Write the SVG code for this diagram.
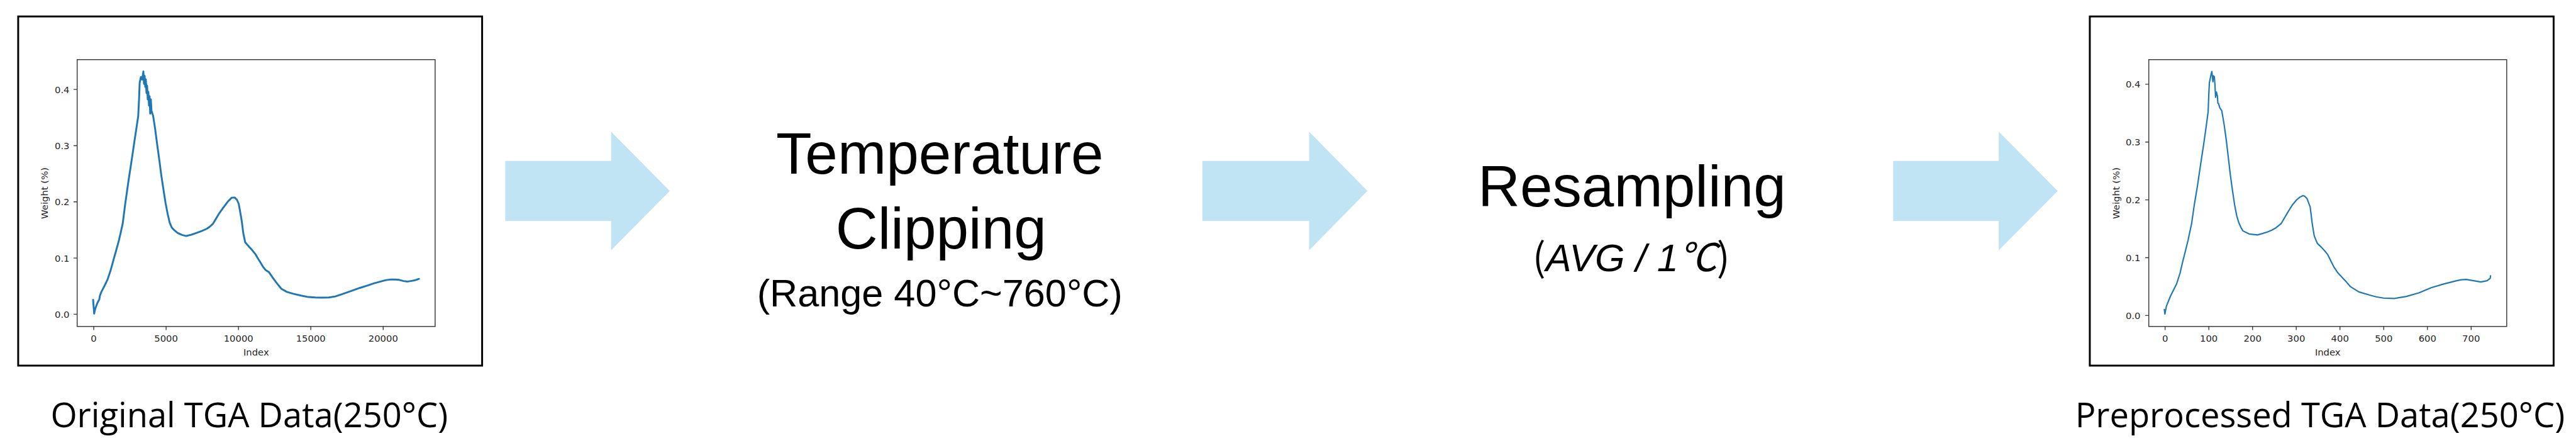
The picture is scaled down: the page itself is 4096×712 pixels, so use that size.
<svg xmlns="http://www.w3.org/2000/svg" width="4096" height="712" viewBox="0 0 4096 712">
<style>
.bg{fill:#ffffff}
.box{fill:#ffffff;stroke:#000000;stroke-width:3}
.frame{fill:none;stroke:#3a3a3a;stroke-width:1.5}
.tick{fill:none;stroke:#3a3a3a;stroke-width:1.4}
.tl{font-family:"DejaVu Sans",sans-serif;font-size:15px;fill:#262626}
.tlr{text-anchor:end}
.tlc{text-anchor:middle}
.curve{fill:none;stroke:#1f77b4;stroke-linejoin:round;stroke-linecap:round}
.arrow{fill:#c1e4f5}
.title{font-family:"Liberation Sans",Arial,sans-serif;font-size:94px;fill:#000;text-anchor:middle}
.sub{font-family:"Liberation Sans",Arial,sans-serif;font-size:62px;fill:#000;text-anchor:middle}
.cap{font-family:"Open Sans","Noto Sans",sans-serif;font-size:55px;fill:#000;text-anchor:middle}
</style>
<rect class="bg" x="0" y="0" width="4096" height="712"/>
<g transform="scale(0.987)">
<g id="node-original">
<rect class="box" x="29.3" y="26.5" width="747.4" height="562.2"/>
<rect class="frame" x="124.3" y="96" width="576.7" height="429.7"/>
<path class="tick" d="M118.5,144h5.8M118.5,234.5h5.8M118.5,325h5.8M118.5,415.5h5.8M118.5,506h5.8M151,525.7v5.8M267.6,525.7v5.8M384.2,525.7v5.8M500.7,525.7v5.8M617.3,525.7v5.8"/>
<text class="tl tlr" x="112" y="149.5">0.4</text>
<text class="tl tlr" x="112" y="240">0.3</text>
<text class="tl tlr" x="112" y="330.5">0.2</text>
<text class="tl tlr" x="112" y="421">0.1</text>
<text class="tl tlr" x="112" y="511.5">0.0</text>
<text class="tl tlc" x="151" y="550">0</text>
<text class="tl tlc" x="267.6" y="550">5000</text>
<text class="tl tlc" x="384.2" y="550">10000</text>
<text class="tl tlc" x="500.7" y="550">15000</text>
<text class="tl tlc" x="617.3" y="550">20000</text>
<text class="tl tlc" x="412.7" y="572">Index</text>
<text class="tl tlc" transform="translate(76.5,311) rotate(-90)">Weight (%)</text>
<path class="curve" stroke-width="3" d="M150,482.7 L151.7,505 L153.5,497 L156.7,488.3 L160,482 L161,476 L163.3,470 L168,461 L173.3,450 L178,436 L183.3,416.7 L187.5,402 L191.7,386.7 L197.7,360 L201.5,330 L206.7,293.3 L211.5,262 L216.7,226.7 L220,205 L222.7,186.7 L224,160 L225,133.3 L227,124 L229,128 L231,115 L232,135 L233,122 L234,140 L235,128 L236,150 L237,138 L238,160 L239,148 L240,170 L241,155 L242,183 L243,160 L244,178 L246.7,186.7 L250,208 L253.3,233.3 L256.7,258 L260,283.3 L263.3,305 L266.7,326.7 L270,344 L273.3,358.3 L276.5,366 L280,370 L286,375 L293.3,378.3 L300,380 L308,378 L316.7,375 L325,372 L333.3,368.3 L338,365 L343.3,360 L353.3,343.3 L360,334 L366.7,325 L373.3,318.3 L378,318 L381.7,321.7 L384.5,328 L386.7,340 L388.5,350 L390,360 L392,376 L395,390 L400,396 L406.7,403.3 L412,410 L416,417 L420,423.3 L424,430 L428,435 L433.3,438.3 L440,448 L446,456 L453.3,465 L462,470 L473.3,473.3 L485,476 L496.7,478.3 L508,479 L520,479.3 L530,479 L540,477.3 L553,473 L566.7,468.3 L580,463.5 L593.3,459.3 L603,456 L613.3,453.3 L622,451 L630,450 L637,450.2 L643.3,450.7 L650,452.5 L656.7,453.3 L662,452.5 L666.7,451.7 L671,450.5 L675,449"/>
<text class="cap" x="401.5" y="688">Original TGA Data(250°C)</text>
</g>
<g id="node-clipping">
<text class="title" x="1514" y="280">Temperature</text>
<text class="title" x="1516" y="400">Clipping</text>
<text class="sub" x="1514" y="493">(Range 40°C~760°C)</text>
</g>
<g id="node-resampling">
<text class="title" x="2629" y="332">Resampling</text>
<text class="sub" x="2628" y="437"><tspan font-family="'Noto Sans CJK KR',sans-serif">(</tspan><tspan font-style="italic">AVG / 1</tspan><tspan font-family="'Noto Sans CJK KR',sans-serif" font-style="italic">℃</tspan><tspan font-family="'Noto Sans CJK KR',sans-serif">)</tspan></text>
</g>
<g id="node-preprocessed">
<rect class="box" x="3366.7" y="26.5" width="747.2" height="562.2"/>
<rect class="frame" x="3461.7" y="96" width="576.6" height="429.7"/>
<path class="tick" d="M3456,135.6h5.7M3456,228.7h5.7M3456,321.8h5.7M3456,414.9h5.7M3456,508h5.7M3488,525.7v5.8M3558.4,525.7v5.8M3628.9,525.7v5.8M3699.3,525.7v5.8M3769.7,525.7v5.8M3840.2,525.7v5.8M3910.6,525.7v5.8M3981,525.7v5.8"/>
<text class="tl tlr" x="3448.3" y="141.1">0.4</text>
<text class="tl tlr" x="3448.3" y="234.2">0.3</text>
<text class="tl tlr" x="3448.3" y="327.3">0.2</text>
<text class="tl tlr" x="3448.3" y="420.4">0.1</text>
<text class="tl tlr" x="3448.3" y="513.5">0.0</text>
<text class="tl tlc" x="3488" y="550">0</text>
<text class="tl tlc" x="3558.4" y="550">100</text>
<text class="tl tlc" x="3628.9" y="550">200</text>
<text class="tl tlc" x="3699.3" y="550">300</text>
<text class="tl tlc" x="3769.7" y="550">400</text>
<text class="tl tlc" x="3840.2" y="550">500</text>
<text class="tl tlc" x="3910.6" y="550">600</text>
<text class="tl tlc" x="3981" y="550">700</text>
<text class="tl tlc" x="3750" y="572">Index</text>
<text class="tl tlc" transform="translate(3414.5,311) rotate(-90)">Weight (%)</text>
<path class="curve" stroke-width="2.2" d="M3486.7,498.3 L3487.7,505.7 L3490,493.3 L3496.7,476.7 L3501.5,467 L3506.7,456.7 L3512,440 L3516.7,420 L3521,403 L3525,386.7 L3530.7,360 L3535,330 L3540,300 L3545,266 L3550,233.3 L3554,205 L3557.3,180 L3558.5,150 L3559.3,133.3 L3560.7,126.7 L3562,120 L3563.3,115 L3565,131.7 L3566,122 L3567.3,123.3 L3568.3,136.7 L3569.3,156.7 L3570.7,148.3 L3572.3,155 L3573,166 L3574,166.7 L3576,173.3 L3579.3,178.3 L3583,200 L3586.7,226.7 L3590,255 L3593.3,283.3 L3597,310 L3600,330 L3603.5,348 L3606.7,358.3 L3610,366 L3613.3,371.7 L3623.3,376.7 L3636.7,378.3 L3645,376 L3653.3,373.3 L3660,370.5 L3666.7,366.7 L3675,360 L3686.7,340 L3693,330 L3700,321.7 L3705,317.5 L3710,315 L3713,316 L3716.7,320 L3721.7,333.3 L3725,360 L3728.3,380 L3733.3,392 L3740,398.3 L3746,405 L3750,410 L3760,430 L3766,439 L3773.3,446.7 L3780,454 L3786.7,461.7 L3800,470 L3816.7,475 L3828,478 L3840,480 L3856.7,480.7 L3876.7,477.3 L3896.7,471.7 L3916.7,463.3 L3936.7,457.3 L3956.7,452.3 L3965,450.5 L3973.3,450 L3983.3,451.7 L3996.7,454 L4006.7,452 L4011.7,448.3 L4012.3,444"/>
<text class="cap" x="3737.5" y="688">Preprocessed TGA Data(250°C)</text>
</g>
<g id="connectors">
<path class="arrow" d="M814,259 H984.5 V212 L1079,307.5 L984.5,403 V356 H814 Z"/>
<path class="arrow" d="M1937,259 H2109 V212 L2203,307.5 L2109,403 V356 H1937 Z"/>
<path class="arrow" d="M3050,259 H3220 V212 L3315,307.5 L3220,403 V356 H3050 Z"/>
</g>
</g>
</svg>
